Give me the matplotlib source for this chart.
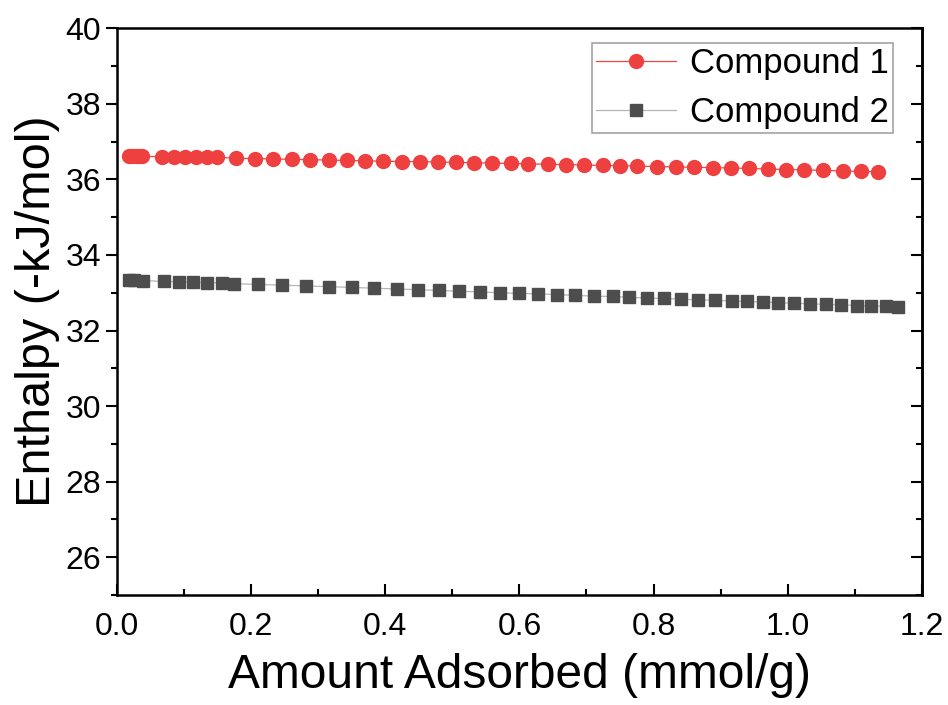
import matplotlib
matplotlib.use("Agg")
import matplotlib.pyplot as plt
from matplotlib.ticker import MultipleLocator, FormatStrFormatter, NullFormatter

plt.rcParams['font.family'] = ['Liberation Sans', 'DejaVu Sans']

# Compound 1 (red circles)
x1 = [0.018, 0.023, 0.028, 0.033, 0.038,
      0.067, 0.085, 0.101, 0.118, 0.134, 0.149, 0.177, 0.206, 0.232, 0.261,
      0.288, 0.316, 0.343, 0.370, 0.396, 0.425, 0.452, 0.478, 0.505, 0.532,
      0.559, 0.587, 0.613, 0.642, 0.669, 0.697, 0.724, 0.750, 0.776, 0.805,
      0.833, 0.860, 0.888, 0.916, 0.943, 0.970, 0.997, 1.025, 1.052, 1.082,
      1.109, 1.134]
y1 = [36.62, 36.62, 36.62, 36.62, 36.61,
      36.60, 36.60, 36.59, 36.59, 36.58, 36.58, 36.56, 36.55, 36.54, 36.53,
      36.52, 36.51, 36.50, 36.49, 36.48, 36.47, 36.47, 36.46, 36.45, 36.44,
      36.43, 36.42, 36.41, 36.40, 36.39, 36.38, 36.37, 36.36, 36.35, 36.34,
      36.33, 36.32, 36.31, 36.30, 36.29, 36.27, 36.26, 36.25, 36.24, 36.22,
      36.21, 36.20]

# Compound 2 (grey squares)
x2 = [0.018, 0.025, 0.039, 0.070, 0.092, 0.113, 0.134, 0.156, 0.174, 0.210,
      0.246, 0.282, 0.316, 0.350, 0.383, 0.417, 0.449, 0.480, 0.510, 0.541,
      0.571, 0.599, 0.627, 0.656, 0.683, 0.711, 0.739, 0.763, 0.790, 0.815,
      0.841, 0.866, 0.891, 0.917, 0.939, 0.963, 0.985, 1.009, 1.033, 1.057,
      1.080, 1.103, 1.124, 1.146, 1.165]
y2 = [33.34, 33.33, 33.32, 33.30, 33.29, 33.28, 33.27, 33.26, 33.24, 33.22,
      33.20, 33.18, 33.16, 33.14, 33.12, 33.10, 33.08, 33.06, 33.04, 33.02,
      33.00, 32.98, 32.97, 32.95, 32.93, 32.91, 32.90, 32.88, 32.86, 32.85,
      32.83, 32.81, 32.80, 32.78, 32.77, 32.75, 32.74, 32.72, 32.71, 32.69,
      32.68, 32.66, 32.65, 32.64, 32.63]

labels = ['Compound 1', 'Compound 2']

fig = plt.figure(figsize=(9.48, 7.05), dpi=100)
ax = fig.add_axes([0.1234, 0.156, 0.849, 0.804])

ax.plot(x1, y1, color='#f04545', lw=0.9, marker='o', ms=10,
        mfc='#ef4040', mec='#ef4040', label=labels[0])
ax.plot(x2, y2, color='#b5b5b5', lw=0.9, marker='s', ms=8.6,
        mfc='#4d4d4d', mec='#4d4d4d', label=labels[1])

ax.set_xlim(0, 1.2)
ax.set_ylim(25, 40)
ax.xaxis.set_major_locator(MultipleLocator(0.2))
ax.xaxis.set_minor_locator(MultipleLocator(0.1))
ax.xaxis.set_major_formatter(FormatStrFormatter('%.1f'))
ax.yaxis.set_major_locator(MultipleLocator(2))
ax.yaxis.set_minor_locator(MultipleLocator(1))

for s in ax.spines.values():
    s.set_linewidth(1.8)

ax.tick_params(axis='y', which='both', left=True, right=False, direction='out',
               labelsize=23, width=1.5)
ax.tick_params(axis='x', which='both', bottom=True, top=False, direction='in',
               labelsize=23, width=1.5, pad=12)
ax.tick_params(which='major', length=8)
ax.tick_params(which='minor', length=4)

# right axis: inward ticks, no labels
sec = ax.secondary_yaxis('right')
sec.yaxis.set_major_locator(MultipleLocator(2))
sec.yaxis.set_minor_locator(MultipleLocator(1))
sec.yaxis.set_major_formatter(NullFormatter())
sec.tick_params(which='both', direction='in', width=1.5)
sec.tick_params(which='major', length=8)
sec.tick_params(which='minor', length=4)
sec.spines['right'].set_linewidth(1.8)

ax.set_xlabel('Amount Adsorbed (mmol/g)', fontsize=34.5, labelpad=8)
ax.set_ylabel('Enthalpy (-kJ/mol)', fontsize=35, labelpad=4)

leg = ax.legend(loc='upper right', bbox_to_anchor=(0.964, 0.974), fontsize=25,
                frameon=True, fancybox=False, handlelength=2.3,
                handletextpad=0.4, borderpad=0.12, labelspacing=0.45,
                borderaxespad=0)
leg.get_frame().set_edgecolor('#8c8c8c')
leg.get_frame().set_linewidth(1.2)

fig.savefig('out.png', dpi=100)
